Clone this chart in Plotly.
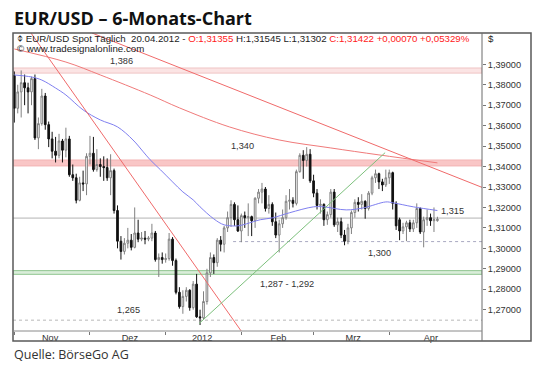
import plotly.graph_objects as go
import pandas as pd

# ---------------- data ----------------
dates = pd.bdate_range("2011-11-01", "2012-04-20").strftime("%d.%m.%Y").tolist()

open_ = [1.3845,1.3685,1.3765,1.3810,1.3785,1.3765,1.3830,1.3540,1.3610,1.3745,
         1.3605,1.3535,1.3475,1.3455,1.3525,1.3480,1.3535,1.3360,1.3345,1.3235,
         1.3320,1.3315,1.3450,1.3465,1.3385,1.3410,1.3400,1.3395,1.3345,1.3380,
         1.3185,1.3035,1.2985,1.3025,1.3040,1.3005,1.3075,1.3045,1.3050,1.3045,
         1.3050,1.3075,1.2945,1.2955,1.2945,1.2950,1.3045,1.2940,1.2785,1.2715,
         1.2765,1.2795,1.2710,1.2825,1.2665,1.2660,1.2740,1.2880,1.2955,1.2930,
         1.3040,1.3020,1.3100,1.3150,1.3215,1.3140,1.3085,1.3160,1.3150,1.3155,
         1.3135,1.3245,1.3275,1.3290,1.3195,1.3215,1.3130,1.3065,1.3120,1.3150,
         1.3230,1.3235,1.3220,1.3375,1.3455,1.3430,1.3460,1.3330,1.3270,1.3210,
         1.3215,1.3140,1.3165,1.3275,1.3115,1.3130,1.3065,1.3035,1.3100,1.3175,
         1.3225,1.3215,1.3230,1.3195,1.3270,1.3345,1.3365,1.3325,1.3310,1.3345,
         1.3370,1.3220,1.3140,1.3085,1.3105,1.3125,1.3095,1.3125,1.3195,1.3080,
         1.3140,1.3150,1.3135,1.31355]
high = [1.3865,1.3800,1.3870,1.3850,1.3810,1.3840,1.3850,1.3640,1.3780,1.3760,
        1.3620,1.3570,1.3545,1.3560,1.3535,1.3590,1.3550,1.3410,1.3365,1.3350,
        1.3380,1.3465,1.3550,1.3545,1.3485,1.3440,1.3450,1.3440,1.3460,1.3390,
        1.3210,1.3060,1.3050,1.3100,1.3070,1.3200,1.3140,1.3080,1.3085,1.3060,
        1.3120,1.3085,1.2975,1.2980,1.2975,1.3075,1.3055,1.2950,1.2810,1.2795,
        1.2810,1.2800,1.2840,1.2875,1.2700,1.2790,1.2900,1.2980,1.2970,1.3050,
        1.3060,1.3110,1.3180,1.3235,1.3225,1.3210,1.3170,1.3180,1.3220,1.3160,
        1.3250,1.3290,1.3320,1.3300,1.3260,1.3225,1.3175,1.3140,1.3190,1.3260,
        1.3290,1.3250,1.3385,1.3465,1.3480,1.3495,1.3485,1.3360,1.3290,1.3240,
        1.3220,1.3180,1.3290,1.3290,1.3150,1.3150,1.3090,1.3120,1.3185,1.3240,
        1.3250,1.3265,1.3235,1.3280,1.3355,1.3385,1.3370,1.3340,1.3385,1.3385,
        1.3375,1.3230,1.3150,1.3125,1.3135,1.3140,1.3140,1.3220,1.3200,1.3155,
        1.3190,1.3170,1.3200,1.31545]
low = [1.3615,1.3660,1.3640,1.3700,1.3660,1.3700,1.3530,1.3485,1.3600,1.3580,
       1.3495,1.3440,1.3420,1.3440,1.3420,1.3445,1.3350,1.3330,1.3220,1.3230,
       1.3280,1.3260,1.3410,1.3375,1.3375,1.3350,1.3330,1.3330,1.3260,1.3170,
       1.3000,1.2945,1.2970,1.3000,1.2990,1.3000,1.3030,1.3035,1.3020,1.3035,
       1.3035,1.2935,1.2860,1.2925,1.2930,1.2940,1.2915,1.2775,1.2705,1.2680,
       1.2740,1.2695,1.2700,1.2660,1.2625,1.2650,1.2725,1.2860,1.2875,1.2910,
       1.2985,1.2980,1.3080,1.3105,1.3110,1.3080,1.3030,1.3100,1.3060,1.3060,
       1.3100,1.3220,1.3220,1.3180,1.3170,1.3110,1.3050,1.2980,1.3100,1.3140,
       1.3190,1.3200,1.3210,1.3370,1.3340,1.3400,1.3320,1.3250,1.3190,1.3170,
       1.3110,1.3115,1.3150,1.3105,1.3080,1.3050,1.3015,1.3020,1.3070,1.3150,
       1.3180,1.3190,1.3145,1.3185,1.3260,1.3320,1.3290,1.3280,1.3300,1.3315,
       1.3190,1.3090,1.3040,1.3070,1.3035,1.3080,1.3080,1.3100,1.3070,1.3005,
       1.3110,1.3110,1.3080,1.31302]
close = [1.3685,1.3765,1.3810,1.3785,1.3765,1.3830,1.3540,1.3610,1.3745,1.3605,
         1.3535,1.3475,1.3455,1.3525,1.3480,1.3535,1.3360,1.3345,1.3235,1.3320,
         1.3315,1.3450,1.3465,1.3385,1.3410,1.3400,1.3395,1.3345,1.3380,1.3185,
         1.3035,1.2985,1.3025,1.3040,1.3005,1.3075,1.3045,1.3050,1.3045,1.3050,
         1.3075,1.2945,1.2955,1.2945,1.2950,1.3045,1.2940,1.2785,1.2715,1.2765,
         1.2795,1.2710,1.2825,1.2665,1.2660,1.2740,1.2880,1.2955,1.2930,1.3040,
         1.3020,1.3100,1.3150,1.3215,1.3140,1.3085,1.3160,1.3150,1.3155,1.3135,
         1.3245,1.3275,1.3290,1.3195,1.3215,1.3130,1.3065,1.3120,1.3150,1.3230,
         1.3235,1.3220,1.3375,1.3455,1.3430,1.3460,1.3330,1.3270,1.3210,1.3215,
         1.3140,1.3165,1.3275,1.3115,1.3130,1.3065,1.3035,1.3100,1.3175,1.3225,
         1.3215,1.3230,1.3195,1.3270,1.3345,1.3365,1.3325,1.3310,1.3345,1.3370,
         1.3220,1.3110,1.3085,1.3105,1.3125,1.3095,1.3125,1.3195,1.3080,1.3140,
         1.3150,1.3135,1.3140,1.31422]

# moving averages (trading-day index -> price)
ma_blue_idx = [0, 5, 8, 12, 15, 20, 25, 30, 34.5, 37.5, 39.5, 42.5, 46, 49, 52, 54,
               58, 61, 65, 67.5, 71.5, 75, 80, 87, 90, 96.5, 101.5, 108, 110, 116, 123]
ma_blue_val = [1.3848, 1.3838, 1.3823, 1.3784, 1.3750, 1.3677, 1.3628, 1.3594, 1.3530,
               1.3472, 1.3433, 1.3384, 1.3325, 1.3276, 1.3237, 1.3203, 1.3144, 1.3115,
               1.3110, 1.3120, 1.3140, 1.3149, 1.3174, 1.3203, 1.3203, 1.3188, 1.3198,
               1.3227, 1.3223, 1.3203, 1.3185]
ma_red_idx = [0, 15, 25, 39.5, 48, 62.5, 77, 92, 106, 123]
ma_red_val = [1.3975, 1.3911, 1.3848, 1.3750, 1.3687, 1.3594, 1.3530, 1.3491, 1.3457, 1.3418]

# trend lines (start/end: trading-day index, price)
trend_red_steep = ([4.85, 65.9], [1.4053, 1.2597])
trend_red_flat = ([22.6, 136.0], [1.4053, 1.3298])
trend_green = ([53.7, 107.8], [1.2632, 1.3468])

# horizontal levels
band_top = (1.3857, 1.3882)
band_red = (1.3403, 1.3432)
band_green = (1.2873, 1.2891)
level_1315 = 1.3148
level_1300 = 1.3033
level_1300_start = 63.6
level_1265 = 1.2648

level_labels = ["1,386", "1,340", "1,315", "1,300", "1,287 - 1,292", "1,265"]

month_starts = [0, 22, 44, 66, 87, 109]
month_labels = ["Nov", "Dez", "2012", "Feb", "Mrz", "Apr"]
month_label_pos = [10.4, 33.6, 54.6, 76.8, 98.5, 121.1]

y_ticks = [1.27, 1.28, 1.29, 1.30, 1.31, 1.32, 1.33, 1.34, 1.35, 1.36, 1.37, 1.38, 1.39]

# ---------------- figure ----------------
x = list(range(len(close)))
W, H = 540, 371
L, R, T, B = 13, 482, 33, 331


def px(v):
    return (v - L) / (R - L)


def py(v):
    return (B - v) / (B - T)


fig = go.Figure()

fig.add_trace(go.Candlestick(
    x=x, open=open_, high=high, low=low, close=close, text=dates,
    increasing=dict(line=dict(color="#808080", width=1), fillcolor="#ffffff"),
    decreasing=dict(line=dict(color="#111111", width=1), fillcolor="#111111"),
    whiskerwidth=0, showlegend=False, hoverinfo="x+text"))

fig.add_trace(go.Scatter(x=ma_blue_idx, y=ma_blue_val, mode="lines",
                         line=dict(color="#7f7ff0", width=1, shape="spline"),
                         showlegend=False, hoverinfo="skip"))
fig.add_trace(go.Scatter(x=ma_red_idx, y=ma_red_val, mode="lines",
                         line=dict(color="#f07a7a", width=1, shape="spline"),
                         showlegend=False, hoverinfo="skip"))
for (tx, ty), col in [(trend_red_steep, "#f06a6a"), (trend_red_flat, "#f06a6a"),
                      (trend_green, "#7cc07c")]:
    fig.add_trace(go.Scatter(x=tx, y=ty, mode="lines", line=dict(color=col, width=1),
                             showlegend=False, hoverinfo="skip", cliponaxis=True))

xmin, xmax = -0.378, 135.96
shapes = []
# bands
shapes.append(dict(type="rect", xref="x", yref="y", x0=xmin, x1=xmax, y0=band_top[0], y1=band_top[1],
                   fillcolor="#fbe4e4", line=dict(color="#efc4c4", width=1), layer="below"))
shapes.append(dict(type="rect", xref="x", yref="y", x0=xmin, x1=xmax, y0=band_red[0], y1=band_red[1],
                   fillcolor="#f9c6c6", line=dict(color="#f3b3b3", width=1), layer="below"))
shapes.append(dict(type="rect", xref="x", yref="y", x0=xmin, x1=xmax, y0=band_green[0], y1=band_green[1],
                   fillcolor="#d9edd9", line=dict(color="#8fc48f", width=1), layer="below"))
shapes.append(dict(type="line", xref="x", yref="y", x0=xmin, x1=xmax, y0=level_1315, y1=level_1315,
                   line=dict(color="#b4b4b4", width=1), layer="below"))
shapes.append(dict(type="line", xref="x", yref="y", x0=level_1300_start, x1=xmax, y0=level_1300, y1=level_1300,
                   line=dict(color="#a8a8c0", width=1, dash="dot"), layer="below"))
shapes.append(dict(type="line", xref="x", yref="y", x0=xmin, x1=xmax, y0=level_1265, y1=level_1265,
                   line=dict(color="#d0d0d0", width=1.5, dash="dot"), layer="below"))
# frame
shapes.append(dict(type="rect", xref="paper", yref="paper", x0=0, x1=px(531), y0=py(341), y1=1,
                   line=dict(color="#5a5a5a", width=1.5), fillcolor="rgba(0,0,0,0)"))
shapes.append(dict(type="line", xref="paper", yref="paper", x0=1, x1=1, y0=py(341), y1=1,
                   line=dict(color="#6a6a6a", width=1)))
shapes.append(dict(type="line", xref="paper", yref="paper", x0=0, x1=1, y0=0, y1=0,
                   line=dict(color="#8a8a8a", width=1)))

small = dict(family="Liberation Sans, Arial", size=9.2, color="#333333")
hdr = dict(family="Liberation Sans, Arial", size=9.7, color="#222")
ann = []
# level labels (position in data coords)
lab_pos = [(31.3, 1.3915), (66.2, 1.3500), (127.3, 1.3183), (106.3, 1.2979), (79.3, 1.2825), (33.3, 1.2700)]
for (ax_, ay_), t in zip(lab_pos, level_labels):
    ann.append(dict(x=ax_, y=ay_, xref="x", yref="y", text=t, showarrow=False, font=small,
                    xanchor="center", yanchor="middle"))

header = ("\u233d EUR/USD Spot Täglich  20.04.2012 - "
          "<span style='color:#ff2020'>O:1,31355</span> H:1,31545 L:1,31302 "
          "<span style='color:#ff2020'>C:1,31422 +0,00070 +0,05329%</span>")
ann.append(dict(x=px(15), y=py(38.5), xref="paper", yref="paper", text=header, showarrow=False,
                xanchor="left", yanchor="middle", font=hdr))
ann.append(dict(x=px(15), y=py(48.5), xref="paper", yref="paper", text="© www.tradesignalonline.com",
                showarrow=False, xanchor="left", yanchor="middle", font=hdr))
ann.append(dict(x=px(486), y=py(38.5), xref="paper", yref="paper", text="$", showarrow=False,
                xanchor="left", yanchor="middle", font=hdr))
ann.append(dict(x=px(12), y=py(18), xref="paper", yref="paper", text="<b>EUR/USD – 6-Monats-Chart</b>",
                showarrow=False, xanchor="left", yanchor="middle",
                font=dict(family="Open Sans", size=18, color="#111")))
ann.append(dict(x=px(12), y=py(355), xref="paper", yref="paper", text="Quelle: BörseGo AG",
                showarrow=False, xanchor="left", yanchor="middle",
                font=dict(family="Open Sans", size=12.5, color="#333")))

fig.update_layout(
    width=W, height=H,
    margin=dict(l=L, r=W - R, t=T, b=H - B, pad=0),
    paper_bgcolor="white", plot_bgcolor="white",
    separators=",.",
    shapes=shapes, annotations=ann,
    xaxis=dict(range=[xmin, xmax], rangeslider=dict(visible=False), showgrid=False, zeroline=False,
               showline=False, tickmode="array", tickvals=month_label_pos, ticktext=month_labels,
               ticks="", tickfont=small,
               minor=dict(tickmode="array", tickvals=month_starts, ticks="outside", ticklen=3,
                          tickcolor="#777", showgrid=False)),
    yaxis=dict(range=[1.25958, 1.40531], side="right", showgrid=False, zeroline=False, showline=False,
               tickmode="array", tickvals=y_ticks, tickformat=".5f", ticks="outside", ticklen=3,
               tickcolor="#777", tickfont=small),
    hovermode=False,
)

fig.write_html("out.html", config={"displayModeBar": False, "staticPlot": True},
               post_script="document.body.style.margin='0';document.body.style.overflow='hidden';")
